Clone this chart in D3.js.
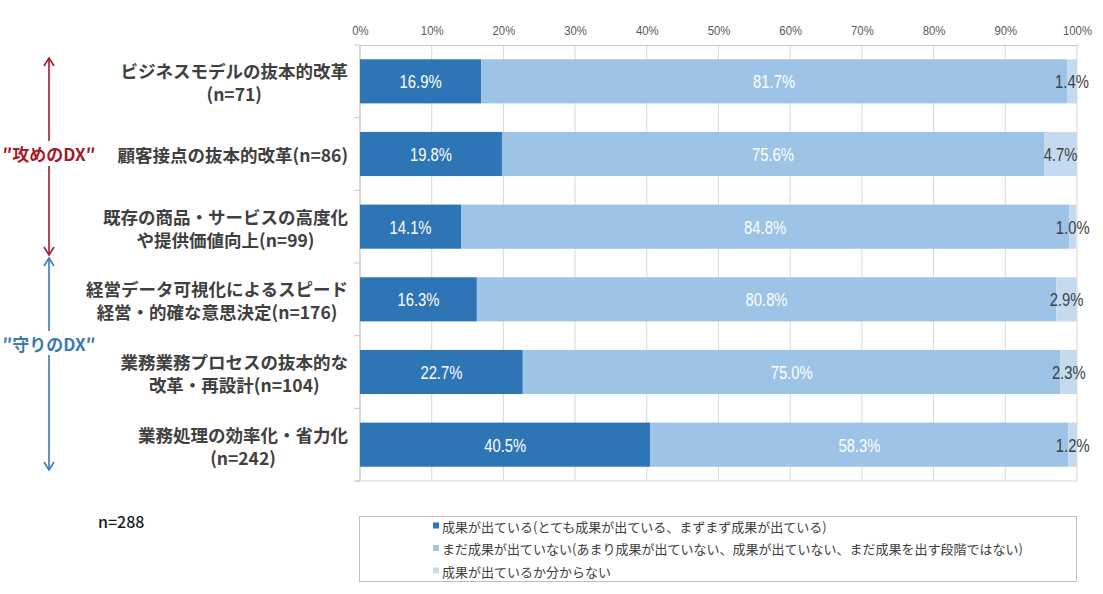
<!DOCTYPE html>
<html><head><meta charset="utf-8">
<script src="https://cdn.jsdelivr.net/npm/d3@7/dist/d3.min.js"></script>
<style>
html,body{margin:0;padding:0;background:#fff;}
svg{display:block;}
</style></head>
<body>
<svg id="chart" width="1103" height="594"></svg>
<script>
const categories = [
  "ビジネスモデルの抜本的改革\n(n=71)",
  "顧客接点の抜本的改革(n=86)",
  "既存の商品・サービスの高度化\nや提供価値向上(n=99)",
  "経営データ可視化によるスピード\n経営・的確な意思決定(n=176)",
  "業務業務プロセスの抜本的な\n改革・再設計(n=104)",
  "業務処理の効率化・省力化\n(n=242)"
];
const achieved = [16.9, 19.8, 14.1, 16.3, 22.7, 40.5];
const notYet   = [81.7, 75.6, 84.8, 80.8, 75.0, 58.3];
const unknown  = [1.4, 4.7, 1.0, 2.9, 2.3, 1.2];
const seriesNames = [
  "成果が出ている(とても成果が出ている、まずまず成果が出ている)",
  "まだ成果が出ていない(あまり成果が出ていない、成果が出ていない、まだ成果を出す段階ではない)",
  "成果が出ているか分からない"
];
const xTicks = [0, 10, 20, 30, 40, 50, 60, 70, 80, 90, 100];
const groupLabels = ["″攻めのDX″", "″守りのDX″"];
const sampleNote = "n=288";

(function () {
const colors = ["#2E75B6", "#9DC3E6", "#C5DAEF"];
const labelColors = ["#ffffff", "#ffffff", "#404040"];
const latin = "'Liberation Sans','Noto Sans',sans-serif";
const cjk = "'Noto Sans CJK JP','Noto Sans',sans-serif";

const svg = d3.select("#chart");
const pL = 360, pR = 1077, pT = 45, pB = 481;

const x = d3.scaleLinear().domain([0, 100]).range([pL, pR]);
const y = d3.scaleBand().domain(categories).range([pT, pB]).paddingInner(0.393).paddingOuter(0.1965);

// gridlines
svg.append("g").selectAll("line").data(xTicks).join("line")
  .attr("x1", d => x(d)).attr("x2", d => x(d))
  .attr("y1", pT).attr("y2", pB)
  .attr("stroke", "#d9d9d9").attr("stroke-width", 1);

// top axis
const xAxis = d3.axisTop(x).tickValues(xTicks).tickSize(0).tickPadding(10).tickFormat(d => d + "%");
const gx = svg.append("g").attr("transform", `translate(0,${pT})`).call(xAxis);
gx.select(".domain").attr("stroke", "#c8c8c8");
gx.selectAll("text").attr("font-family", latin).attr("font-size", 13.5).attr("fill", "#595959")
  .attr("transform", "scale(0.84,1)");

// bottom border
svg.append("line").attr("x1", pL - 5).attr("x2", pR).attr("y1", pB).attr("y2", pB)
  .attr("stroke", "#d9d9d9");

// left axis line + ticks at category boundaries
svg.append("line").attr("x1", pL).attr("x2", pL).attr("y1", pT).attr("y2", pB)
  .attr("stroke", "#c8c8c8");
const step = y.step();
const boundaries = d3.range(categories.length + 1).map(i => pT + i * step);
svg.append("g").selectAll("line").data(boundaries).join("line")
  .attr("x1", pL - 6).attr("x2", pL).attr("y1", d => d).attr("y2", d => d)
  .attr("stroke", "#c8c8c8");

// stacked data
const rows = categories.map((c, i) => ({ cat: c, vals: [achieved[i], notYet[i], unknown[i]] }));
const segs = [];
rows.forEach(r => {
  let acc = 0;
  r.vals.forEach((v, k) => { segs.push({ cat: r.cat, k, x0: acc, x1: acc + v, v }); acc += v; });
});

svg.append("g").selectAll("rect").data(segs).join("rect")
  .attr("x", d => x(d.x0))
  .attr("width", d => Math.max(0, Math.min(x(d.x1), pR) - x(d.x0)))
  .attr("y", d => y(d.cat)).attr("height", y.bandwidth())
  .attr("fill", d => colors[d.k]);

svg.append("g").selectAll("text").data(segs).join("text")
  .attr("transform", d => `translate(${x((d.x0 + Math.min(d.x1, 100)) / 2)},${y(d.cat) + y.bandwidth() / 2 + 1}) scale(0.8,1)`)
  .attr("text-anchor", "middle").attr("dominant-baseline", "central")
  .attr("font-family", latin).attr("font-size", 18.5)
  .attr("fill", d => labelColors[d.k])
  .text(d => d.v.toFixed(1) + "%");

// category labels
const labelRight = 348;
categories.forEach(c => {
  const lines = c.split("\n");
  const cy = y(c) + y.bandwidth() / 2;
  const g = svg.append("g");
  const texts = lines.map((ln, i) => {
    const dy = lines.length === 1 ? 0 : (i === 0 ? -10.5 : 12.5);
    return g.append("text").attr("y", cy + dy).attr("dominant-baseline", "central")
      .attr("text-anchor", "middle")
      .attr("font-family", cjk).attr("font-size", 17.5).attr("font-weight", "bold")
      .attr("fill", "#404040").text(ln);
  });
  const maxW = d3.max(texts, t => t.node().getComputedTextLength());
  texts.forEach(t => t.attr("x", labelRight - maxW / 2));
});

// group arrows
function vArrow(xp, y1, y2, gapTop, gapBot, color) {
  const g = svg.append("g").attr("stroke", color).attr("stroke-width", 1.6).attr("fill", "none");
  g.append("line").attr("x1", xp).attr("x2", xp).attr("y1", y1).attr("y2", gapTop);
  g.append("line").attr("x1", xp).attr("x2", xp).attr("y1", gapBot).attr("y2", y2);
  g.append("path").attr("d", `M${xp - 5},${y1 + 8}L${xp},${y1}L${xp + 5},${y1 + 8}`);
  g.append("path").attr("d", `M${xp - 5},${y2 - 8}L${xp},${y2}L${xp + 5},${y2 - 8}`);
}
vArrow(49, 58, 255, 141, 166, "#A3192B");
vArrow(49, 258, 470, 331, 355, "#3A7AB5");

svg.append("text").attr("x", 49).attr("y", 153).attr("text-anchor", "middle").attr("dominant-baseline", "central")
  .attr("font-family", cjk).attr("font-size", 17).attr("font-weight", "bold").attr("fill", "#A3192B")
  .text(groupLabels[0]);
svg.append("text").attr("x", 49).attr("y", 343).attr("text-anchor", "middle").attr("dominant-baseline", "central")
  .attr("font-family", cjk).attr("font-size", 17).attr("font-weight", "bold").attr("fill", "#3A7AB5")
  .text(groupLabels[1]);

svg.append("text").attr("x", 98).attr("y", 521).attr("dominant-baseline", "central")
  .attr("font-family", cjk).attr("font-size", 16).attr("font-weight", 500).attr("fill", "#1a1a1a")
  .text(sampleNote);

// legend
svg.append("rect").attr("x", 359.5).attr("y", 516.5).attr("width", 717).attr("height", 65)
  .attr("fill", "#fff").attr("stroke", "#bfbfbf");
const lg = svg.append("g").selectAll("g").data(seriesNames).join("g")
  .attr("transform", (d, i) => `translate(433,${526 + i * 22.5})`);
lg.append("rect").attr("x", 0).attr("y", -3.5).attr("width", 6).attr("height", 6).attr("fill", (d, i) => colors[i]);
lg.append("text").attr("x", 9).attr("y", 0).attr("dominant-baseline", "central")
  .attr("font-family", cjk).attr("font-size", 13).attr("fill", "#404040").text(d => d);
})();
</script>
</body></html>
